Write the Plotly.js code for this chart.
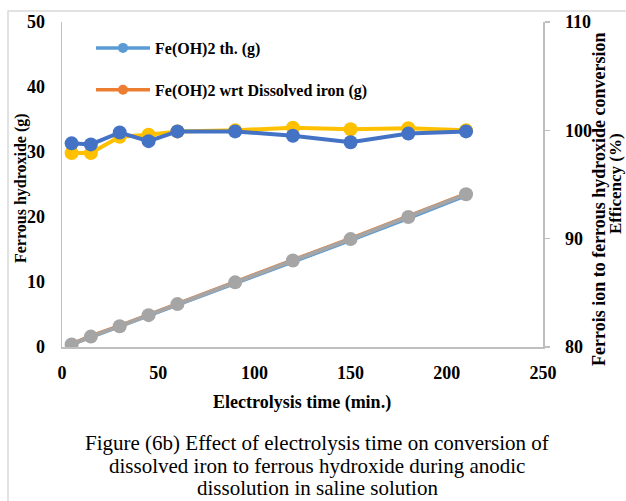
<!DOCTYPE html>
<html>
<head>
<meta charset="utf-8">
<script src="https://cdn.plot.ly/plotly-3.0.1.min.js"></script>
<style>html,body{margin:0;padding:0;background:#fff;}#chart{width:626px;height:501px;}</style>
</head>
<body>
<div id="chart"></div>
<script>
// Data
const timeMin = [5, 15, 30, 45, 60, 90, 120, 150, 180, 210];
const feOH2Theoretical = [0.4, 1.5, 3.1, 4.8, 6.5, 9.8, 13.1, 16.4, 19.8, 23.3];
const feOH2Dissolved = [0.5, 1.7, 3.3, 5.0, 6.7, 10.05, 13.4, 16.7, 20.1, 23.6];
const feOH2Measured = [0.4, 1.6, 3.2, 4.9, 6.6, 9.95, 13.3, 16.6, 20.0, 23.5];
const efficiencyA = [97.9, 97.9, 99.4, 99.6, 99.9, 100.0, 100.25, 100.1, 100.2, 100.0];
const efficiencyB = [98.8, 98.7, 99.8, 99.0, 99.9, 99.9, 99.5, 98.9, 99.7, 99.9];
const leftTicks = [0, 10, 20, 30, 40, 50];
const rightTicks = [80, 90, 100, 110];
const xTicks = [0, 50, 100, 150, 200, 250];

const serif = 'Liberation Serif, Times New Roman, serif';
const axisGray = '#bfbfbf';

const traces = [
  {x: timeMin, y: feOH2Theoretical, name: 'Fe(OH)2 th. (g)', type: 'scatter', mode: 'lines+markers',
   line: {color: '#5B9BD5', width: 3.5}, marker: {color: '#5B9BD5', size: 10}, legendgroup: 'a', yaxis: 'y'},
  {x: timeMin, y: feOH2Dissolved, name: 'Fe(OH)2 wrt Dissolved iron (g)', type: 'scatter', mode: 'lines+markers',
   line: {color: '#ED7D31', width: 3.5}, marker: {color: '#ED7D31', size: 10}, legendgroup: 'b', yaxis: 'y'},
  {x: timeMin, y: feOH2Measured, name: 'Fe(OH)2 (g)', type: 'scatter', mode: 'lines+markers', showlegend: false,
   line: {color: '#A5A5A5', width: 4}, marker: {color: '#A5A5A5', size: 14}, yaxis: 'y'},
  {x: timeMin, y: efficiencyA, name: 'Efficiency A', type: 'scatter', mode: 'lines+markers', showlegend: false,
   line: {color: '#FFC000', width: 4}, marker: {color: '#FFC000', size: 14}, yaxis: 'y2'},
  {x: timeMin, y: efficiencyB, name: 'Efficiency B', type: 'scatter', mode: 'lines+markers', showlegend: false,
   line: {color: '#4472C4', width: 4}, marker: {color: '#4472C4', size: 14}, yaxis: 'y2'}
];

const W = 626, H = 501, L = 62, R = 543, T = 22, B = 347;
const px = v => (v - L) / (R - L);
const py = v => (B - v) / (B - T);

const layout = {
  width: W, height: H,
  margin: {l: L, r: W - R, t: T, b: H - B, pad: 0},
  paper_bgcolor: '#ffffff', plot_bgcolor: '#ffffff',
  font: {family: serif, color: '#000000'},
  showlegend: true,
  legend: {x: px(91), y: py(31), xanchor: 'left', yanchor: 'top', bgcolor: 'rgba(0,0,0,0)',
           font: {family: serif, size: 16, weight: 700, color: '#000'},
           tracegroupgap: 18, traceorder: 'grouped', itemwidth: 54},
  xaxis: {range: [0, 250], tickvals: xTicks, ticktext: xTicks.map(String), showgrid: false, zeroline: false,
          showline: true, linecolor: axisGray, linewidth: 1.5, ticks: '', ticklabelstandoff: 9,
          tickfont: {family: serif, size: 18, weight: 700, color: '#000'}},
  yaxis: {range: [0, 50], tickvals: leftTicks, ticktext: leftTicks.map(String), showgrid: false, zeroline: false,
          showline: true, linecolor: axisGray, linewidth: 1.5, ticks: '', ticklabelstandoff: 12,
          tickfont: {family: serif, size: 18, weight: 700, color: '#000'}},
  yaxis2: {range: [80, 110], tickvals: rightTicks, ticktext: rightTicks.map(String), overlaying: 'y', side: 'right',
           showgrid: false, zeroline: false, showline: true, linecolor: axisGray, linewidth: 1.5,
           ticks: 'outside', ticklen: 5, tickcolor: axisGray, tickwidth: 1.5, ticklabelstandoff: 12,
           tickfont: {family: serif, size: 18, weight: 700, color: '#000'}},
  shapes: [
    {type: 'rect', xref: 'paper', yref: 'paper', x0: px(8), x1: px(640), y0: py(520), y1: py(11),
     line: {color: '#d9d9d9', width: 1.5}, fillcolor: 'rgba(0,0,0,0)', layer: 'below'}
  ],
  annotations: [
    {text: 'Electrolysis time (min.)', xref: 'paper', yref: 'paper', x: px(302), y: py(402),
     xanchor: 'center', yanchor: 'middle', showarrow: false, font: {family: serif, size: 18, weight: 700}},
    {text: 'Ferrous hydroxide (g)', xref: 'paper', yref: 'paper', x: px(21), y: py(188), textangle: -90,
     xanchor: 'center', yanchor: 'middle', showarrow: false, font: {family: serif, size: 16, weight: 700}},
    {text: 'Ferrois ion to ferrous hydroxide conversion', xref: 'paper', yref: 'paper', x: px(599), y: py(200), textangle: -90,
     xanchor: 'center', yanchor: 'middle', showarrow: false, font: {family: serif, size: 18, weight: 700}},
    {text: 'Efficency (%)', xref: 'paper', yref: 'paper', x: px(615), y: py(184), textangle: -90,
     xanchor: 'center', yanchor: 'middle', showarrow: false, font: {family: serif, size: 17, weight: 700}},
    {text: 'Figure (6b) Effect of electrolysis time on conversion of', xref: 'paper', yref: 'paper', x: px(317), y: py(443),
     xanchor: 'center', yanchor: 'middle', showarrow: false, font: {family: serif, size: 21}},
    {text: 'dissolved iron to ferrous hydroxide during anodic', xref: 'paper', yref: 'paper', x: px(317), y: py(466),
     xanchor: 'center', yanchor: 'middle', showarrow: false, font: {family: serif, size: 21}},
    {text: 'dissolution in saline solution', xref: 'paper', yref: 'paper', x: px(317), y: py(488),
     xanchor: 'center', yanchor: 'middle', showarrow: false, font: {family: serif, size: 21}}
  ]
};

Plotly.newPlot('chart', traces, layout, {displayModeBar: false, staticPlot: true});
</script>
</body>
</html>
